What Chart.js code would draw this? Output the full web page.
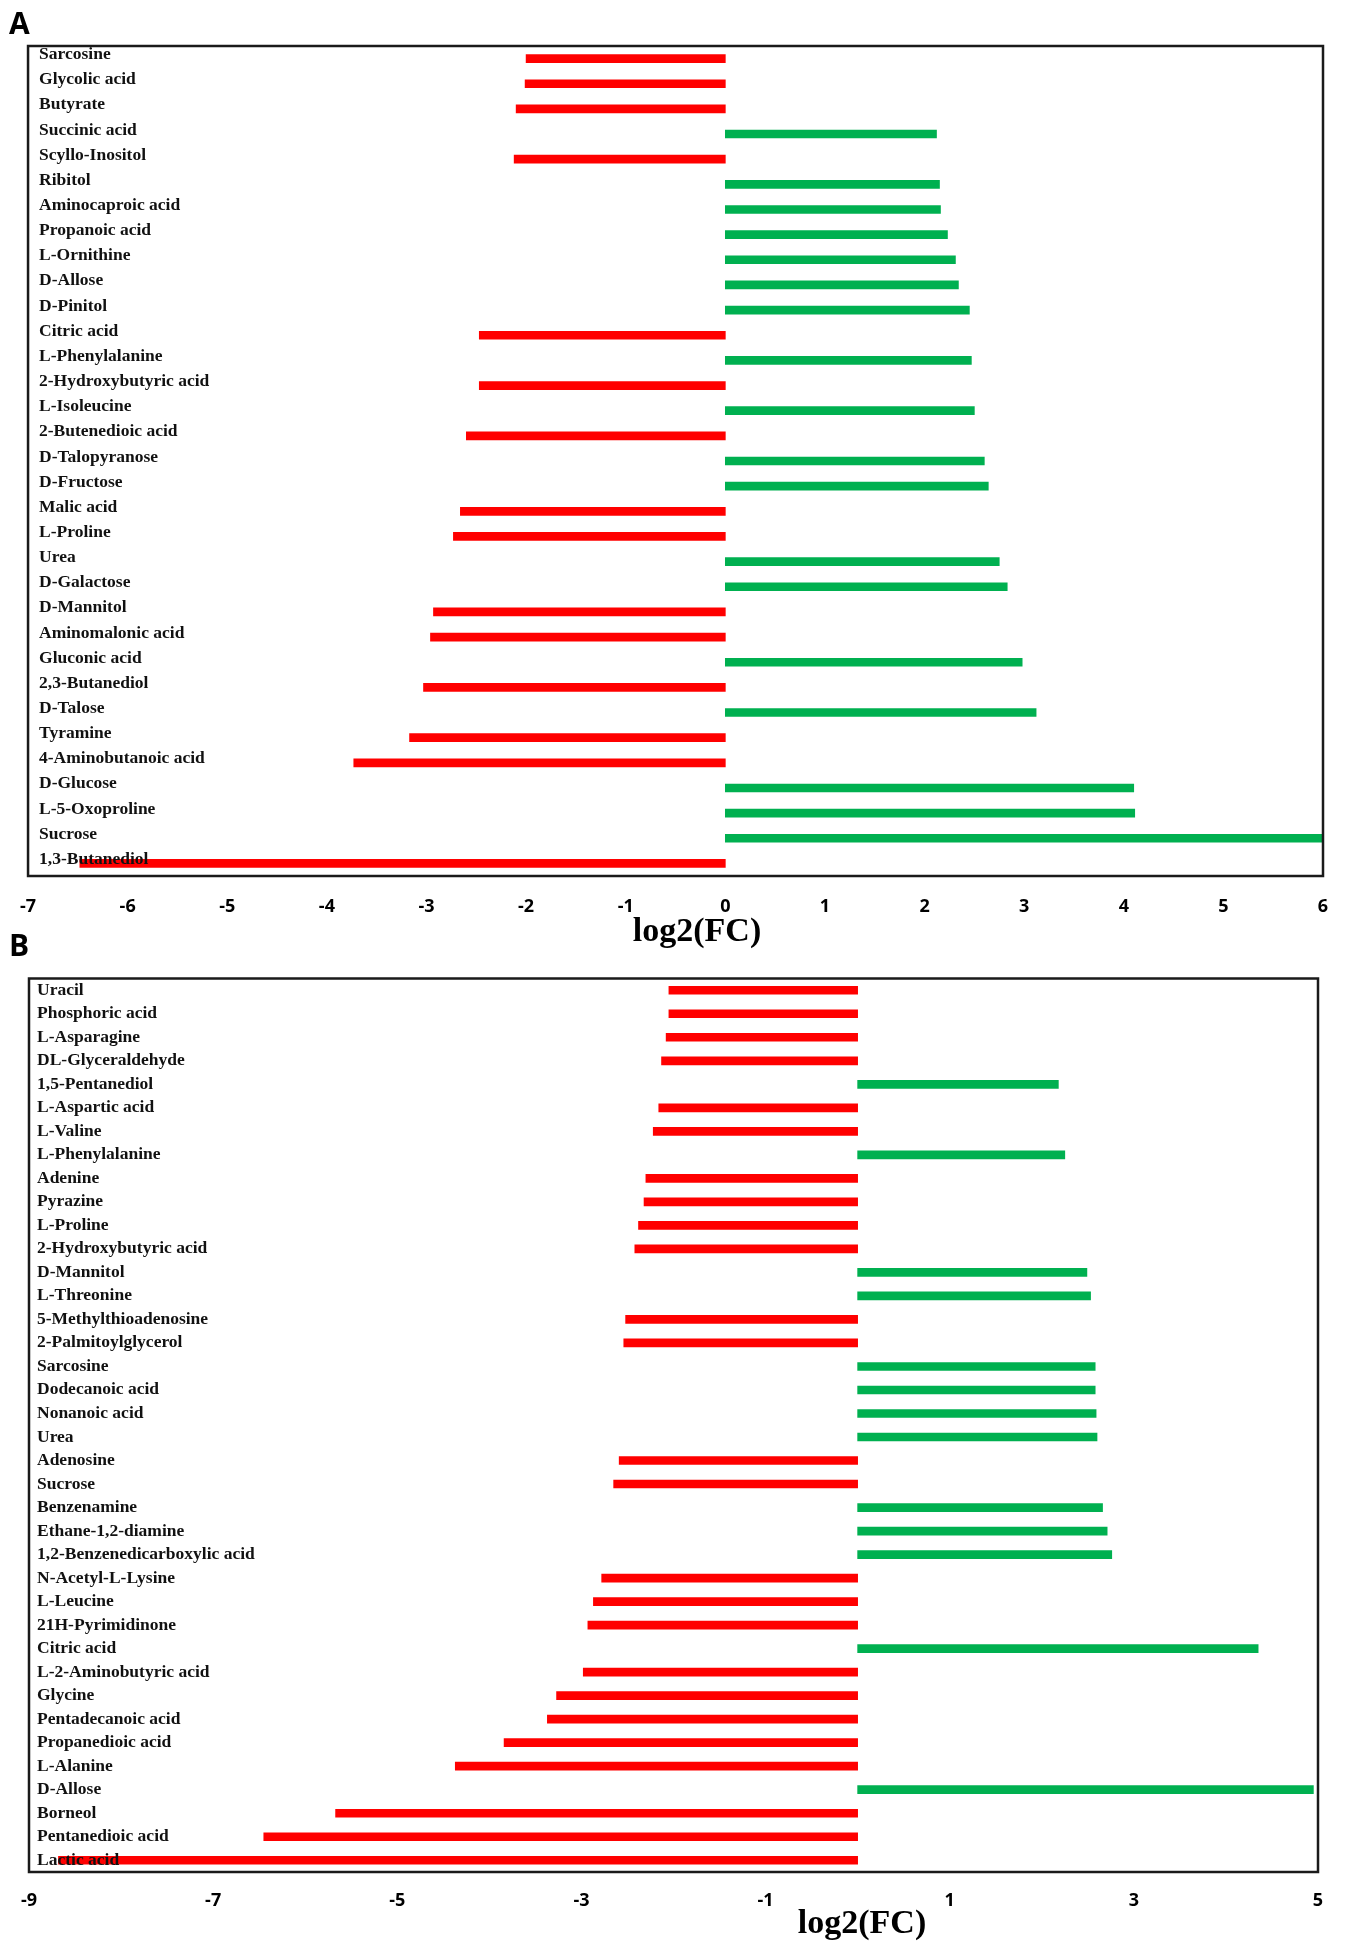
<!DOCTYPE html>
<html lang="en">
<head>
<meta charset="utf-8">
<script src="https://cdn.jsdelivr.net/npm/chart.js@4.4.1/dist/chart.umd.min.js"></script>
<title>log2(FC)</title>
<style>
  body { margin: 0; width: 1350px; height: 1945px; position: relative; background: #fff; overflow: hidden; }
  canvas { position: absolute; left: 0; }
  .panel { position: absolute; font-family: 'Open Sans', sans-serif; font-weight: 700; font-size: 30px; line-height: 30px; color: #000; }
  .xtitle { position: absolute; font-family: 'Liberation Serif', serif; font-weight: 700; font-size: 34px; line-height: 34px; transform: translateX(-50%); white-space: nowrap; color: #000; }
</style>
</head>
<body>
<canvas id="chart-a" width="1350" height="960" style="top:0"></canvas>
<div class="panel" style="left:9px;top:8px">A</div>
<div class="xtitle" style="left:697px;top:913px">log2(FC)</div>
<canvas id="chart-b" width="1350" height="985" style="top:960px"></canvas>
<div class="panel" style="left:9px;top:930px">B</div>
<div class="xtitle" style="left:862px;top:1905px">log2(FC)</div>

<script>
// panel A
const labelsA = ["Sarcosine", "Glycolic acid", "Butyrate", "Succinic acid", "Scyllo-Inositol", "Ribitol",
  "Aminocaproic acid", "Propanoic acid", "L-Ornithine", "D-Allose", "D-Pinitol", "Citric acid",
  "L-Phenylalanine", "2-Hydroxybutyric acid", "L-Isoleucine", "2-Butenedioic acid", "D-Talopyranose",
  "D-Fructose", "Malic acid", "L-Proline", "Urea", "D-Galactose", "D-Mannitol", "Aminomalonic acid",
  "Gluconic acid", "2,3-Butanediol", "D-Talose", "Tyramine", "4-Aminobutanoic acid", "D-Glucose",
  "L-5-Oxoproline", "Sucrose", "1,3-Butanediol"];
const valuesA = [-2.0, -2.01, -2.1, 2.12, -2.12, 2.15, 2.16, 2.23, 2.31, 2.34, 2.45, -2.47, 2.47, -2.47,
  2.5, -2.6, 2.6, 2.64, -2.66, -2.73, 2.75, 2.83, -2.93, -2.96, 2.98, -3.03, 3.12, -3.17, -3.73, 4.1,
  4.11, 6.0, -6.48];

// panel B
const labelsB = ["Uracil", "Phosphoric acid", "L-Asparagine", "DL-Glyceraldehyde", "1,5-Pentanediol",
  "L-Aspartic acid", "L-Valine", "L-Phenylalanine", "Adenine", "Pyrazine", "L-Proline",
  "2-Hydroxybutyric acid", "D-Mannitol", "L-Threonine", "5-Methylthioadenosine", "2-Palmitoylglycerol",
  "Sarcosine", "Dodecanoic acid", "Nonanoic acid", "Urea", "Adenosine", "Sucrose", "Benzenamine",
  "Ethane-1,2-diamine", "1,2-Benzenedicarboxylic acid", "N-Acetyl-L-Lysine", "L-Leucine",
  "21H-Pyrimidinone", "Citric acid", "L-2-Aminobutyric acid", "Glycine", "Pentadecanoic acid",
  "Propanedioic acid", "L-Alanine", "D-Allose", "Borneol", "Pentanedioic acid", "Lactic acid"];
const valuesB = [-2.05, -2.05, -2.08, -2.13, 2.18, -2.16, -2.22, 2.25, -2.3, -2.32, -2.38, -2.42, 2.49,
  2.53, -2.52, -2.54, 2.58, 2.58, 2.59, 2.6, -2.59, -2.65, 2.66, 2.71, 2.76, -2.78, -2.87, -2.93, 4.35,
  -2.98, -3.27, -3.37, -3.84, -4.37, 4.95, -5.67, -6.45, -8.68];

const RED = '#ff0000';
const GREEN = '#00b050';

// box round the plot area
const frame = {
  id: 'frame',
  afterDraw(chart) {
    const a = chart.chartArea, ctx = chart.ctx;
    ctx.save();
    ctx.lineWidth = 2.5;
    ctx.strokeStyle = '#1a1a1a';
    ctx.strokeRect(a.left, a.top, a.right - a.left, a.bottom - a.top);
    ctx.restore();
  }
};

function makeChart(id, labels, values, o) {
  return new Chart(document.getElementById(id), {
    type: 'bar',
    data: {
      labels: labels,
      datasets: [{
        data: values,
        backgroundColor: values.map(v => v < 0 ? RED : GREEN),
        barThickness: 8,
        categoryPercentage: 1.0
      }]
    },
    options: {
      indexAxis: 'y',
      responsive: false,
      animation: false,
      layout: { padding: o.padding },
      plugins: { legend: { display: false }, tooltip: { enabled: false } },
      scales: {
        x: {
          type: 'linear',
          min: o.min,
          max: o.max,
          ticks: {
            stepSize: o.step,
            padding: o.tickPad,
            color: '#000',
            font: { family: "'Open Sans', sans-serif", size: 18, weight: 'bold' }
          },
          grid: { display: false, drawTicks: false },
          border: { display: false },
          afterFit: s => { s.height = 50; }
        },
        y: {
          ticks: {
            z: 1,   // names sit on top of the bars
            mirror: true,
            padding: o.labelPad,
            labelOffset: o.labelOffset,
            autoSkip: false,
            color: '#111',
            font: { family: "'Liberation Serif', serif", size: 17.5, weight: 'bold' }
          },
          grid: { display: false, drawTicks: false },
          border: { display: false },
          afterFit: s => { s.width = 0; }
        }
      }
    },
    plugins: [frame]
  });
}

makeChart('chart-a', labelsA, valuesA, {
  min: -7, max: 6, step: 1, tickPad: 20, labelPad: 11, labelOffset: -4,
  padding: { left: 27, top: 46, right: 27, bottom: 34 }
});
makeChart('chart-b', labelsB, valuesB, {
  min: -9, max: 5, step: 2, tickPad: 18, labelPad: 8, labelOffset: 0,
  padding: { left: 29, top: 11, right: 32, bottom: 23 }
});
</script>
</body>
</html>
